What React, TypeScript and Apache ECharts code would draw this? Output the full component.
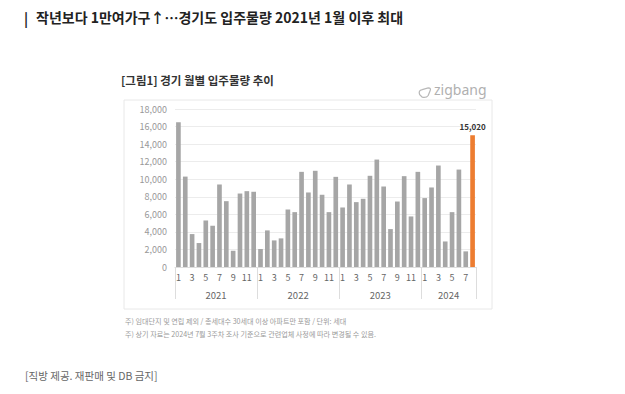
import React, { useEffect, useRef } from "react";
import * as echarts from "echarts";

const monthLabels = [
  "1","2","3","4","5","6","7","8","9","10","11","12",
  "1","2","3","4","5","6","7","8","9","10","11","12",
  "1","2","3","4","5","6","7","8","9","10","11","12",
  "1","2","3","4","5","6","7","8",
];
const years = ["2021", "2022", "2023", "2024"];
const yearStarts = [0, 12, 24, 36, 44];
const yearCenters = [6, 18, 30, 40];
const values2021 = [16500, 10300, 3750, 2730, 5300, 4700, 9400, 7500, 1850, 8370, 8640, 8570];
const values2022 = [2050, 4170, 3030, 3260, 6550, 6250, 10840, 8490, 10960, 8230, 6250, 10270];
const values2023 = [6780, 9400, 7390, 7770, 10390, 12240, 9170, 4320, 7460, 10350, 5760, 10840];
const values2024 = [7850, 9060, 11560, 2910, 6250, 11100, 1780, 15020];
const highlightIndex = 43;

const FONT = "'Noto Sans CJK KR', 'Noto Sans', sans-serif";

export default function App() {
  const ref = useRef<HTMLDivElement>(null);
  useEffect(() => {
    if (!ref.current) return;
    echarts.graphic.registerShape(
      "zlogo",
      echarts.graphic.extendPath(
        "M2 9 Q0 4 5 3 L12 1 Q16 1 14 5 L12 10 Q10 13 5 12 Z",
        {}
      )
    );
    const chart = echarts.init(ref.current, null, { renderer: "svg" });
    const values = [...values2021, ...values2022, ...values2023, ...values2024];
    const data = values.map((v, i) =>
      i === highlightIndex
        ? {
            value: v,
            itemStyle: { color: "#ed7d31" },
            label: {
              show: true,
              position: "top",
              distance: 5,
              fontSize: 8,
              fontWeight: "bold",
              color: "#333",
              fontFamily: FONT,
              formatter: (p: any) => p.value.toLocaleString("en-US"),
            },
          }
        : v
    );
    chart.setOption({
      animation: false,
      backgroundColor: "#fff",
      graphic: [
        {
          type: "text",
          left: 24,
          top: 11,
          style: { text: "|", fontSize: 14, fontWeight: "bold", fill: "#222", fontFamily: FONT },
        },
        {
          type: "text",
          left: 36,
          top: 10,
          style: {
            text: "작년보다 1만여가구↑…경기도 입주물량 2021년 1월 이후 최대",
            fontSize: 14,
            fontWeight: "bold",
            fill: "#222",
            fontFamily: FONT,
          },
        },
        {
          type: "rect",
          shape: { x: 124, y: 100, width: 368, height: 209 },
          style: { fill: "#fff", stroke: "#e8e8e8", lineWidth: 1 },
          z: -10,
        },
        {
          type: "text",
          left: 121,
          top: 74,
          style: {
            text: "[그림1] 경기 월별 입주물량 추이",
            fontSize: 11.5,
            fontWeight: "bold",
            fill: "#333",
            fontFamily: FONT,
          },
        },
        {
          type: "zlogo",
          x: 418,
          y: 87,
          scaleX: 0.85,
          scaleY: 0.85,
          style: { fill: "none", stroke: "#b8b8b8", lineWidth: 1.5 },
        },
        {
          type: "text",
          left: 434,
          top: 82,
          style: { text: "zigbang", fontSize: 14, fill: "#b0b0b0", fontFamily: "'Noto Sans', sans-serif" },
        },
        {
          type: "text",
          left: 125,
          top: 317,
          style: {
            text: "주) 임대단지 및 연립 제외 / 총세대수 30세대 이상 아파트만 포함 / 단위: 세대",
            fontSize: 7.1,
            fill: "#9a9a9a",
            fontFamily: FONT,
          },
        },
        {
          type: "text",
          left: 125,
          top: 330,
          style: {
            text: "주) 상기 자료는 2024년 7월 3주차 조사 기준으로 관련업체 사정에 따라 변경될 수 있음.",
            fontSize: 7.1,
            fill: "#9a9a9a",
            fontFamily: FONT,
          },
        },
        {
          type: "text",
          left: 25,
          top: 370,
          style: { text: "[직방 제공. 재판매 및 DB 금지]", fontSize: 10.5, fill: "#666", fontFamily: FONT },
        },
      ],
      grid: { left: 175, right: 149, top: 109, bottom: 127, containLabel: false },
      xAxis: [
        {
          type: "category",
          data: monthLabels,
          axisLine: { show: true, lineStyle: { color: "#ddd" } },
          axisTick: { show: false },
          axisLabel: { interval: 1, fontSize: 9, color: "#666", margin: 6, fontFamily: FONT },
        },
        {
          type: "value",
          position: "bottom",
          min: 0,
          max: 44,
          axisLine: { show: false },
          splitLine: { show: false },
          axisTick: {
            show: true,
            customValues: yearStarts,
            length: 32,
            lineStyle: { color: "#ddd" },
          },
          axisLabel: {
            customValues: yearCenters,
            formatter: (v: number) => years[yearCenters.indexOf(v)] ?? "",
            fontSize: 9.5,
            color: "#666",
            margin: 23,
            fontFamily: FONT,
          },
        },
      ],
      yAxis: {
        type: "value",
        min: 0,
        max: 18000,
        interval: 2000,
        axisLine: { show: false },
        axisTick: { show: false },
        splitLine: { lineStyle: { color: "#ececec" } },
        axisLabel: {
          fontSize: 9,
          color: "#999",
          margin: 8,
          fontFamily: FONT,
          formatter: (v: number) => v.toLocaleString("en-US"),
        },
      },
      series: [
        {
          type: "bar",
          data,
          barWidth: "68%",
          itemStyle: { color: "#a6a6a6" },
        },
      ],
    });
    return () => chart.dispose();
  }, []);
  return (
    <div ref={ref} style={{ position: "absolute", left: 0, top: 0, width: 625, height: 394 }} />
  );
}
